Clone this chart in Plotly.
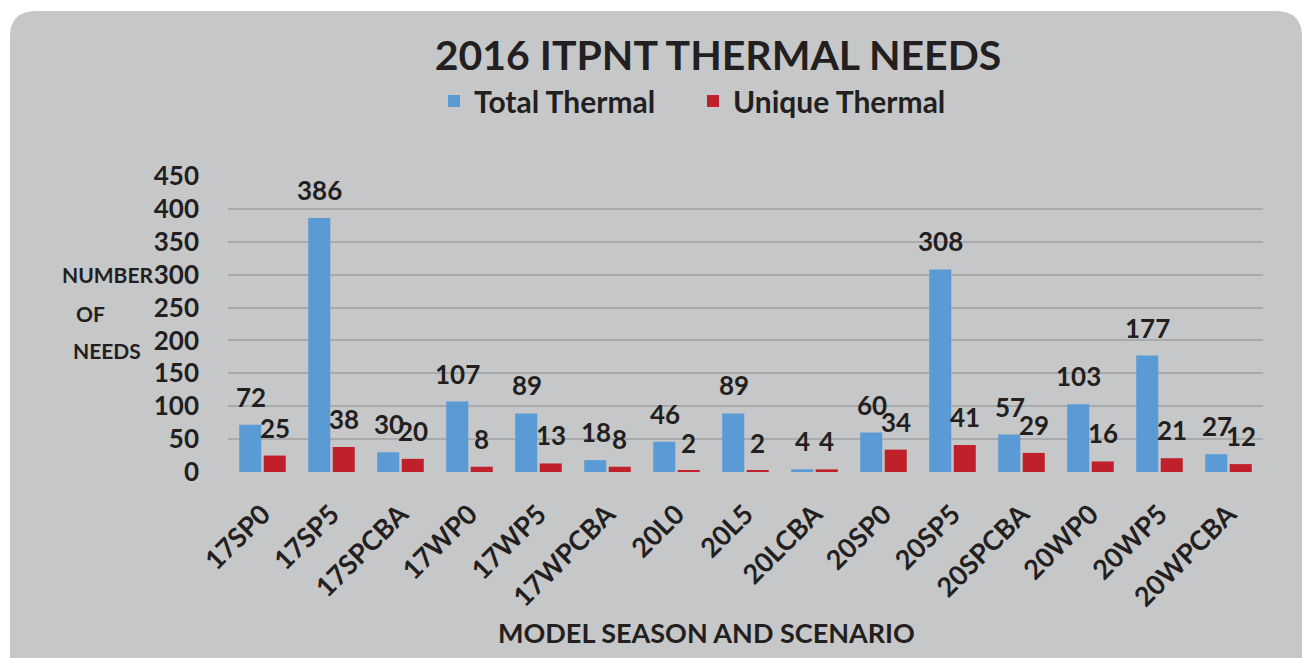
import plotly.graph_objects as go

categories = ["17SP0", "17SP5", "17SPCBA", "17WP0", "17WP5", "17WPCBA", "20L0", "20L5",
              "20LCBA", "20SP0", "20SP5", "20SPCBA", "20WP0", "20WP5", "20WPCBA"]
total_thermal = [72, 386, 30, 107, 89, 18, 46, 89, 4, 60, 308, 57, 103, 177, 27]
unique_thermal = [25, 38, 20, 8, 13, 8, 2, 2, 4, 34, 41, 29, 16, 21, 12]
y_ticks = [0, 50, 100, 150, 200, 250, 300, 350, 400, 450]

FONT = "Lato"
INK = "#231f20"
OFF = 8  # page body margin

# plot area in page pixels
L, R, T, B = 228, 1263, 176, 472
W, H = R - L, B - T
FW, FH = 1311 - OFF, 658 - OFF

def px(x):
    return (x - L) / W

def py(y):
    return (B - y) / H

fig = go.Figure()
fig.add_trace(go.Bar(
    name="Total Thermal", x=categories, y=total_thermal,
    marker=dict(color="#5b9bd5", line=dict(width=0)),
))
fig.add_trace(go.Bar(
    name="Unique Thermal", x=categories, y=unique_thermal,
    marker=dict(color="#c0202a", line=dict(width=0)),
))

# data labels above bars
for series, shift in ((total_thermal, -12), (unique_thermal, 12)):
    for c, v in zip(categories, series):
        fig.add_annotation(x=c, y=v, text=f"<b>{v}</b>", showarrow=False,
                           xshift=shift, yshift=10, xanchor="center", yanchor="bottom",
                           font=dict(family=FONT, size=26, color=INK))

# rounded card background
x0, y0, x1, y1, r = 10, 11, 1302, 720, 26
path = (f"M {px(x0+r)} {py(y0)} L {px(x1-r)} {py(y0)} "
        f"Q {px(x1)} {py(y0)} {px(x1)} {py(y0+r)} "
        f"L {px(x1)} {py(y1)} L {px(x0)} {py(y1)} "
        f"L {px(x0)} {py(y0+r)} Q {px(x0)} {py(y0)} {px(x0+r)} {py(y0)} Z")

fig.update_layout(
    width=FW, height=FH,
    margin=dict(l=L - OFF, r=FW - (R - OFF), t=T - OFF, b=FH - (B - OFF)),
    paper_bgcolor="white",
    plot_bgcolor="#dcdde0",
    barmode="group", bargap=0.29, bargroupgap=0.1,
    font=dict(family=FONT, color=INK),
    title=dict(text="<b>2016 ITPNT THERMAL NEEDS</b>", xref="paper", x=px(718), xanchor="center",
               yref="container", y=1 - (56 - OFF) / FH, yanchor="middle",
               font=dict(family=FONT, size=41, color=INK)),
    legend=dict(orientation="h", x=px(434), xanchor="left", y=py(101), yanchor="middle",
                font=dict(family=FONT, size=30, color=INK, weight="bold"),
                bgcolor="rgba(0,0,0,0)", itemwidth=30, traceorder="normal",
                entrywidth=214, entrywidthmode="pixels"),
    shapes=[dict(type="path", path=path, xref="paper", yref="paper",
                 fillcolor="#c6c7c9", line=dict(width=0), layer="below")],
    showlegend=True,
)
fig.update_xaxes(
    tickangle=-45, tickfont=dict(family=FONT, size=27, color=INK, weight="bold"),
    showgrid=False, zeroline=False, showline=False, ticks="", ticklabelstandoff=20,
)
fig.update_yaxes(
    range=[0, 450], tickvals=y_ticks, ticktext=[str(v) for v in y_ticks],
    tickfont=dict(family=FONT, size=26, color=INK, weight="bold"),
    showgrid=True, gridcolor="#a9aaac", gridwidth=1.5, zeroline=False, ticks="",
    showline=False, ticklabelstandoff=28,
)
for txt, cx, cy in (("NUMBER", 108, 274), ("OF", 90, 313), ("NEEDS", 107, 350)):
    fig.add_annotation(text=f"<b>{txt}</b>", xref="paper", yref="paper",
                       x=px(cx), y=py(cy), showarrow=False, xanchor="center", yanchor="middle",
                       font=dict(family=FONT, size=21, color=INK))
fig.add_annotation(text="<b>MODEL SEASON AND SCENARIO</b>", xref="paper", yref="paper",
                   x=px(706), y=py(632), showarrow=False, xanchor="center", yanchor="middle",
                   font=dict(family=FONT, size=27, color=INK))

fig.write_html("out.html")
